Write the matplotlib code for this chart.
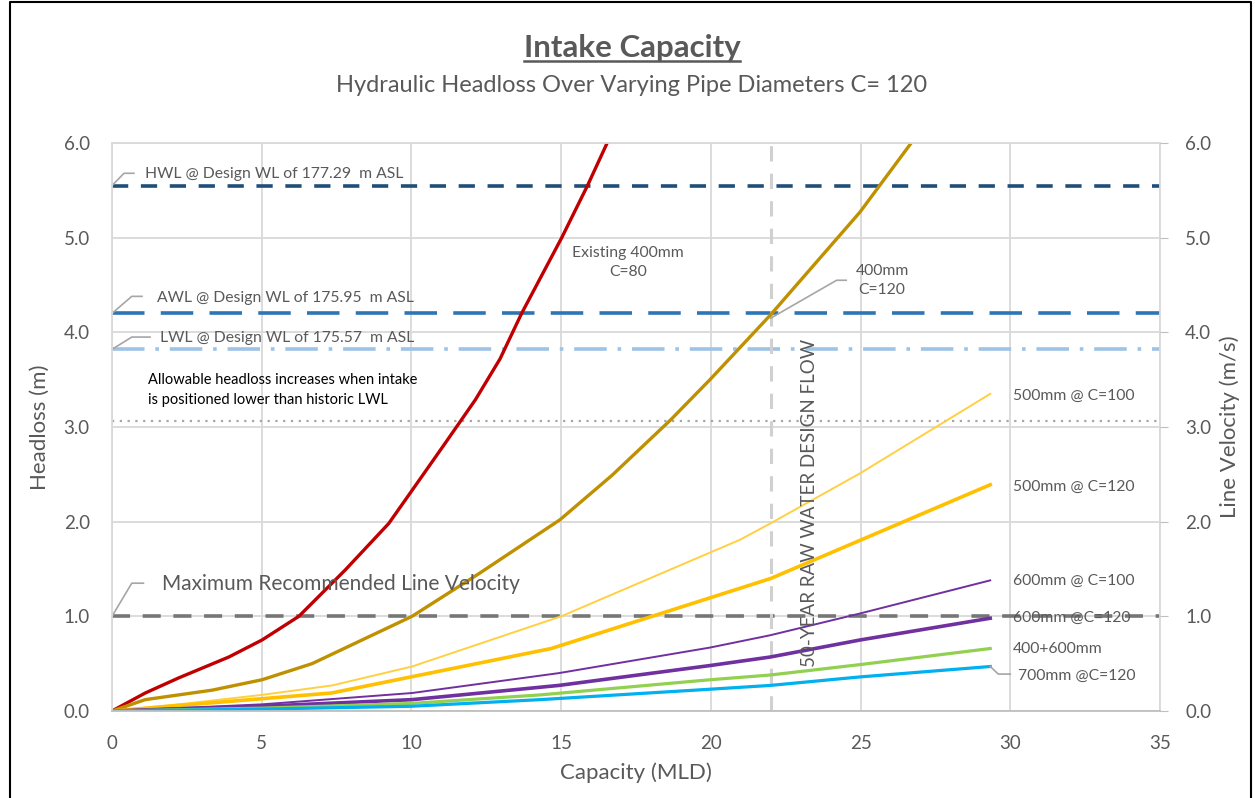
#!/usr/bin/env python3
"""Intake capacity: headloss vs capacity for several pipe diameters."""
import matplotlib
matplotlib.use('Agg')
import matplotlib.pyplot as plt
from matplotlib.lines import Line2D

plt.rcParams['font.family'] = ['Lato', 'DejaVu Sans']

# --- data (x = capacity MLD, y = headloss m) ---
red_x = [0, 1.11, 2.23, 3.9, 5.01, 6.24, 7.79, 9.24, 10.02, 11.13, 12.14, 12.96, 13.68, 15.02, 15.88, 16.58]
red_y = [0, 0.19, 0.35, 0.57, 0.75, 1.0, 1.49, 1.98, 2.33, 2.83, 3.29, 3.72, 4.2, 5.0, 5.55, 6.03]

gold_x = [0, 1.11, 3.34, 5.01, 6.68, 8.35, 10.02, 12.25, 14.96, 16.7, 18.64, 19.97, 21.98, 24.98, 26.76]
gold_y = [0, 0.12, 0.22, 0.33, 0.5, 0.75, 1.0, 1.45, 2.02, 2.49, 3.07, 3.5, 4.18, 5.27, 6.03]

y100_x = [0, 2.5, 5.0, 7.35, 10.02, 15.0, 20.98, 21.98, 24.98, 27.88, 29.33]
y100_y = [0, 0.08, 0.17, 0.27, 0.47, 1.0, 1.81, 1.98, 2.51, 3.07, 3.35]

y120_x = [0, 7.33, 14.67, 22.0, 29.33]
y120_y = [0, 0.19, 0.66, 1.40, 2.39]

p100_x = [0, 5.0, 10.02, 14.92, 19.97, 21.98, 24.98, 29.33]
p100_y = [0, 0.07, 0.19, 0.40, 0.67, 0.80, 1.03, 1.38]

p120_x = [0, 5.0, 10.02, 14.92, 19.97, 21.98, 24.98, 29.33]
p120_y = [0, 0.05, 0.12, 0.27, 0.48, 0.57, 0.75, 0.98]

green_x = [0, 5.0, 10.0, 14.3, 19.97, 21.98, 24.98, 29.33]
green_y = [0, 0.03, 0.08, 0.17, 0.33, 0.38, 0.49, 0.66]

blue_x = [0, 5.0, 10.0, 14.3, 19.97, 21.98, 24.98, 29.33]
blue_y = [0, 0.02, 0.05, 0.12, 0.23, 0.27, 0.36, 0.47]

hwl, awl, lwl = 5.55, 4.20, 3.82
allow_level = 3.06
max_vel = 1.0
design_flow = 22.0

grey = '#595959'

fig = plt.figure(figsize=(12.55, 7.98), dpi=100)
ax = fig.add_axes([112 / 1255, 1 - 711 / 798, (1160 - 112) / 1255, (711 - 143) / 798])

ax.set_xlim(0, 35)
ax.set_ylim(0, 6)
ax.set_xticks(range(0, 36, 5))
ax.set_yticks(range(0, 7))
ax.set_yticklabels([f'{v:.1f}' for v in range(0, 7)])
ax.grid(True, color='#D9D9D9', linewidth=1.3)
ax.set_axisbelow(True)
for s in ax.spines.values():
    s.set_color('#D9D9D9')
    s.set_linewidth(1.3)
ax.spines['bottom'].set_color('#BFBFBF')
ax.tick_params(axis='y', length=0, labelsize=13.5, labelcolor=grey, pad=16)
ax.tick_params(axis='x', length=0, labelsize=13.5, labelcolor=grey, pad=17)

ax2 = ax.twinx()
ax2.set_ylim(0, 6)
ax2.set_yticks(range(0, 7))
ax2.set_yticklabels([f'{v:.1f}' for v in range(0, 7)])
ax2.tick_params(length=6, color='#BFBFBF', labelsize=13.5, labelcolor=grey, pad=12)
for s in ax2.spines.values():
    s.set_visible(False)
ax2.set_ylabel('Line Velocity (m/s)', fontsize=16, color=grey, labelpad=6)

# reference levels
ax.axhline(hwl, color='#1F4E79', lw=2.6, dashes=(4.5, 3.5))
ax.axhline(awl, color='#2E75B6', lw=2.6, dashes=(9, 4.5))
ax.axhline(lwl, color='#9DC3E6', lw=2.6, dashes=(9, 3, 1, 3))
ax.axhline(allow_level, color='#A6A6A6', lw=1.6, dashes=(1, 2.5))
ax.axhline(max_vel, color='#767676', lw=2.6, dashes=(5, 3.5))
ax.axvline(design_flow, color='#D0D0D0', lw=2.2, dashes=(5, 4))

# pipe curves
ax.plot(red_x, red_y, color='#C00000', lw=2.4)
ax.plot(gold_x, gold_y, color='#BF9000', lw=2.4)
ax.plot(y100_x, y100_y, color='#FFD042', lw=1.4)
ax.plot(y120_x, y120_y, color='#FFC000', lw=2.6)
ax.plot(p100_x, p100_y, color='#7030A0', lw=1.4)
ax.plot(p120_x, p120_y, color='#7030A0', lw=2.6)
ax.plot(green_x, green_y, color='#92D050', lw=2.3)
ax.plot(blue_x, blue_y, color='#00B0F0', lw=2.3)

# leader lines
lead = dict(color='#A6A6A6', lw=1.2, clip_on=False)
ax.plot([0, 0.4, 0.73], [hwl, 5.68, 5.68], **lead)
ax.plot([0, 0.66, 1.0], [awl, 4.38, 4.38], **lead)
ax.plot([0, 0.66, 1.27], [lwl, 3.95, 3.95], **lead)
ax.plot([0, 0.66, 1.05], [max_vel, 1.35, 1.35], **lead)
ax.plot([22.0, 24.2, 24.52], [4.15, 4.55, 4.55], **lead)
ax.plot([29.33, 29.6, 30.0], [0.47, 0.39, 0.39], **lead)

txt = dict(color=grey, fontsize=11.3, va='center')
ax.text(1.1, 5.67, 'HWL @ Design WL of 177.29  m ASL', **txt)
ax.text(1.5, 4.36, 'AWL @ Design WL of 175.95  m ASL', **txt)
ax.text(1.6, 3.94, 'LWL @ Design WL of 175.57  m ASL', **txt)
ax.text(1.67, 1.34, 'Maximum Recommended Line Velocity', color=grey, fontsize=15, va='center')
ax.text(1.2, 3.39, 'Allowable headloss increases when intake\nis positioned lower than historic LWL',
        color='black', fontsize=10.5, va='center', linespacing=1.5)
ax.text(17.23, 4.74, 'Existing 400mm\nC=80', ha='center', linespacing=1.5, **txt)
ax.text(25.72, 4.545, '400mm\nC=120', ha='center', linespacing=1.5, **txt)
ax.text(30.09, 3.33, '500mm @ C=100', **txt)
ax.text(30.09, 2.37, '500mm @ C=120', **txt)
ax.text(30.09, 1.37, '600mm @ C=100', **txt)
ax.text(30.09, 0.98, '600mm @C=120', **txt)
ax.text(30.09, 0.65, '400+600mm', **txt)
ax.text(30.26, 0.37, '700mm @C=120', **txt)
ax.text(23.3, 2.2, '50-YEAR RAW WATER DESIGN FLOW', rotation=90, ha='center', va='center',
        color=grey, fontsize=13.5)

ax.set_xlabel('Capacity (MLD)', fontsize=16, color=grey, labelpad=8)
ax.set_ylabel('Headloss (m)', fontsize=16, color=grey, labelpad=10)

# titles
t = fig.text(0.5035, 1 - 48 / 798, 'Intake Capacity', ha='center', va='center',
             fontsize=22.5, fontweight='bold', color=grey)
fig.text(0.5035, 1 - 85 / 798, 'Hydraulic Headloss Over Varying Pipe Diameters C= 120',
         ha='center', va='center', fontsize=17, color=grey)
fig.canvas.draw()
bb = t.get_window_extent().transformed(fig.transFigure.inverted())
fig.add_artist(Line2D([bb.x0, bb.x1], [bb.y0 + 0.001, bb.y0 + 0.001], color=grey, lw=1.8))

# outer frame
fig.add_artist(Line2D([10 / 1255, 10 / 1255, 1251 / 1255, 1251 / 1255],
                      [0, 1 - 2 / 798, 1 - 2 / 798, 0], color='black', lw=1.5))

plt.savefig('out.png', dpi=100)
